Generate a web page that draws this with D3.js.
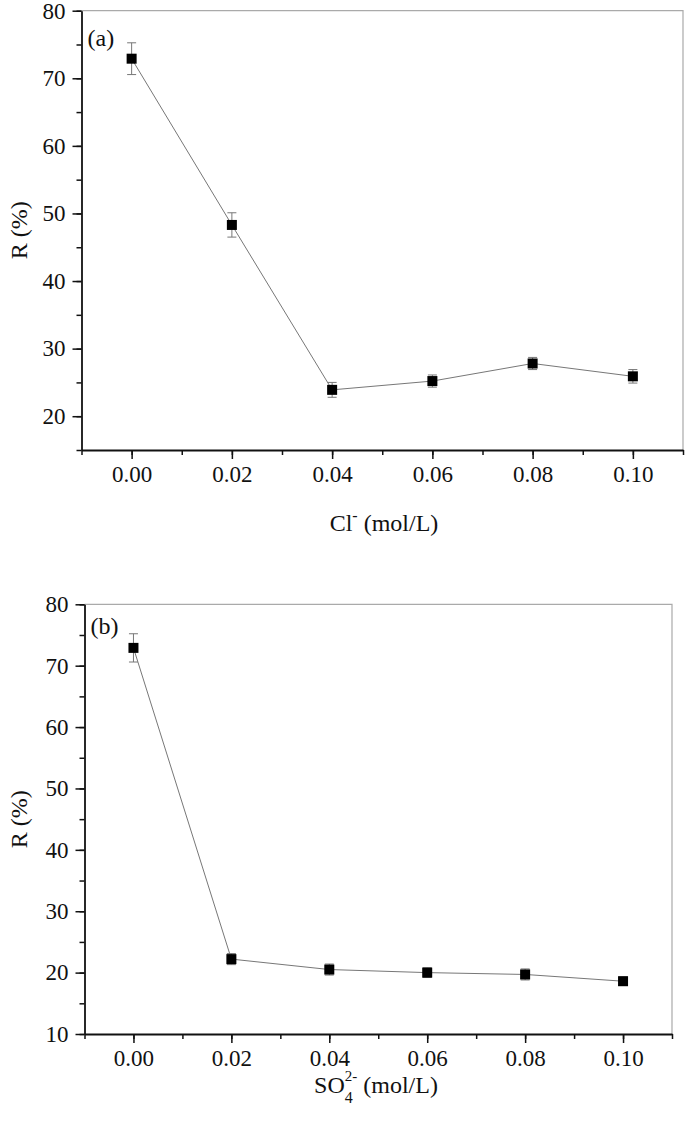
<!DOCTYPE html>
<html>
<head>
<meta charset="utf-8">
<script src="https://cdn.jsdelivr.net/npm/d3@7"></script>
<style>
  body { margin: 0; background: #fff; }
  svg { display: block; }
  text { font-family: "Liberation Serif", "Times New Roman", serif; fill: #111; }
</style>
</head>
<body>
<svg id="chart" width="685" height="1128"></svg>
<script>
// concentrations (mol/L)
const conc = [0.00, 0.02, 0.04, 0.06, 0.08, 0.10];
const xTicks = [0.00, 0.02, 0.04, 0.06, 0.08, 0.10];

// (a) chloride
const clR = [72.9, 48.3, 23.9, 25.2, 27.8, 25.9];
const clErr = [2.35, 1.8, 1.1, 0.9, 0.9, 1.0];

// (b) sulfate
const so4R = [72.9, 22.2, 20.5, 20.0, 19.7, 18.6];
const so4Err = [2.3, 0.9, 0.9, 0.8, 0.9, 0.7];

const svg = d3.select('#chart');

const drawPanel = (opts) => {
  const x = d3.scaleLinear().domain([-0.01, 0.11]).range([opts.left, opts.right]);
  const y = d3.scaleLinear().domain(opts.yDomain).range([opts.bottom, opts.top]);
  const g = svg.append('g');

  // top / right frame (grey)
  g.append('path')
    .attr('d', `M${opts.left},${opts.top}H${opts.right}V${opts.bottom}`)
    .attr('fill', 'none')
    .attr('stroke', '#aaa')
    .attr('stroke-width', 1.2);

  // minor ticks
  const yMinor = d3.range(opts.yDomain[0], opts.yDomain[1] + 0.1, 5);
  const xMinor = d3.range(-0.01, 0.1101, 0.01);

  g.append('g')
    .attr('transform', `translate(${opts.left},0)`)
    .call(d3.axisLeft(y).tickValues(yMinor).tickSize(5).tickFormat(''))
    .call(a => a.select('.domain').remove())
    .selectAll('line').attr('stroke', '#111').attr('stroke-width', 1.5);

  g.append('g')
    .attr('transform', `translate(0,${opts.bottom})`)
    .call(d3.axisBottom(x).tickValues(xMinor).tickSize(5).tickFormat(''))
    .call(a => a.select('.domain').remove())
    .selectAll('line').attr('stroke', '#111').attr('stroke-width', 1.5);

  // major axes
  const yAxis = g.append('g')
    .attr('transform', `translate(${opts.left},0)`)
    .call(d3.axisLeft(y).tickValues(opts.yTicks).tickSize(9).tickSizeOuter(0).tickPadding(7));
  const xAxis = g.append('g')
    .attr('transform', `translate(0,${opts.bottom})`)
    .call(d3.axisBottom(x).tickValues(xTicks).tickSize(9).tickSizeOuter(0).tickPadding(7)
      .tickFormat(d3.format('.2f')));

  [yAxis, xAxis].forEach(a => {
    a.select('.domain').attr('stroke', '#111').attr('stroke-width', 1.8);
    a.selectAll('line').attr('stroke', '#111').attr('stroke-width', 1.5);
    a.selectAll('text')
      .attr('font-family', '"Liberation Serif", serif')
      .attr('font-size', 23)
      .attr('fill', '#111');
  });

  // connecting line
  const pts = conc.map((c, i) => [c, opts.values[i]]);
  g.append('path')
    .datum(pts)
    .attr('fill', 'none')
    .attr('stroke', '#777')
    .attr('stroke-width', 1)
    .attr('d', d3.line().x(d => x(d[0])).y(d => y(d[1])));

  // error bars
  const eb = g.append('g').attr('stroke', '#777').attr('stroke-width', 1);
  pts.forEach((d, i) => {
    const cx = x(d[0]);
    const y1 = y(d[1] + opts.errs[i]);
    const y2 = y(d[1] - opts.errs[i]);
    eb.append('line').attr('x1', cx).attr('x2', cx).attr('y1', y1).attr('y2', y2);
    eb.append('line').attr('x1', cx - 4.5).attr('x2', cx + 4.5).attr('y1', y1).attr('y2', y1);
    eb.append('line').attr('x1', cx - 4.5).attr('x2', cx + 4.5).attr('y1', y2).attr('y2', y2);
  });

  // square markers
  g.selectAll('rect.pt')
    .data(pts)
    .join('rect')
    .attr('class', 'pt')
    .attr('x', d => x(d[0]) - 5)
    .attr('y', d => y(d[1]) - 5)
    .attr('width', 10)
    .attr('height', 10)
    .attr('fill', '#000');

  // panel letter
  g.append('text')
    .attr('x', opts.left + 6)
    .attr('y', opts.top + opts.letterDy)
    .attr('font-size', 24)
    .text(opts.letter);

  // y label
  g.append('text')
    .attr('transform', `translate(27,${(opts.top + opts.bottom) / 2}) rotate(-90)`)
    .attr('text-anchor', 'middle')
    .attr('font-size', 24)
    .text('R (%)');

  return { x, y, g };
};

// (a)
const pa = drawPanel({
  left: 81.5, right: 683, top: 10.7, bottom: 450,
  yDomain: [15, 80], yTicks: [20, 30, 40, 50, 60, 70, 80],
  values: clR, errs: clErr, letter: '(a)', letterDy: 35
});
const la = pa.g.append('text')
  .attr('x', 384).attr('y', 531)
  .attr('text-anchor', 'middle')
  .attr('font-size', 24);
la.append('tspan').text('Cl');
la.append('tspan').attr('dy', -10).attr('font-size', 16).text('-');
la.append('tspan').attr('dy', 10).text(' (mol/L)');

// (b)
const pb = drawPanel({
  left: 84.5, right: 672, top: 604.3, bottom: 1034,
  yDomain: [10, 80], yTicks: [10, 20, 30, 40, 50, 60, 70, 80],
  values: so4R, errs: so4Err, letter: '(b)', letterDy: 30
});
const lb = pb.g.append('text')
  .attr('x', 376).attr('y', 1093)
  .attr('text-anchor', 'middle')
  .attr('font-size', 24);
lb.append('tspan').text('SO');
lb.append('tspan').attr('dy', 10).attr('font-size', 16).text('4');
lb.append('tspan').attr('dx', -8).attr('dy', -22).attr('font-size', 15).text('2-');
lb.append('tspan').attr('dy', 12).text(' (mol/L)');
</script>
</body>
</html>
